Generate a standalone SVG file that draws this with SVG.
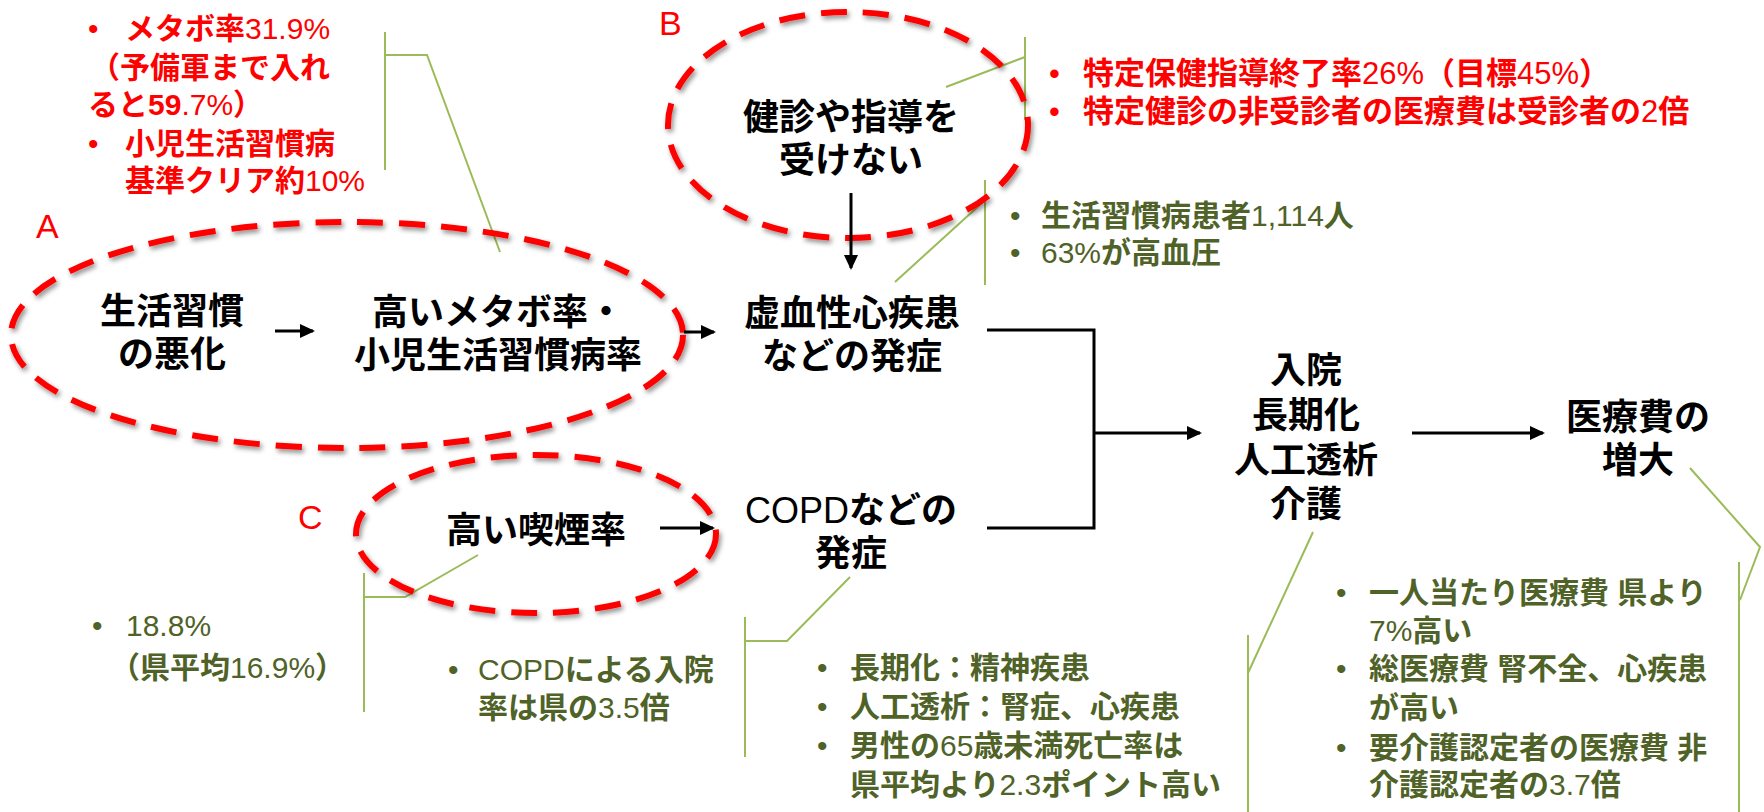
<svg xmlns="http://www.w3.org/2000/svg" width="1764" height="812" viewBox="0 0 1764 812">
<style>
text{font-family:"Liberation Sans","Noto Sans CJK JP",sans-serif}
.node{font-weight:700;font-size:36px;fill:#000;text-anchor:middle;dominant-baseline:central}
.n{font-weight:400}
.red{fill:#FF0000;font-size:30px;font-weight:700;dominant-baseline:central}
.redb{fill:#FF0000;font-size:31px;font-weight:700;dominant-baseline:central}
.grn{fill:#4F6228;font-size:30px;font-weight:700;dominant-baseline:central}
.lbl{fill:#FF0000;font-size:34px;font-weight:400;dominant-baseline:central}
.br{stroke:#9BBB59;stroke-width:2;fill:none}
.ell{fill:none;stroke:#FF0000;stroke-width:6;stroke-dasharray:26 16;filter:url(#sh)}
.con{stroke:#000;stroke-width:3;fill:none}
.arr{stroke:#000;stroke-width:3;fill:none;marker-end:url(#ah)}
</style>
<defs>
<filter id="sh" x="-10%" y="-10%" width="120%" height="130%">
<feDropShadow dx="2" dy="3" stdDeviation="2.5" flood-color="#000" flood-opacity="0.45"/>
</filter>
<marker id="ah" viewBox="0 0 15 14" refX="13" refY="7" markerWidth="15" markerHeight="14" markerUnits="userSpaceOnUse" orient="auto">
<path d="M0,0 L15,7 L0,14 z" fill="#000"/>
</marker>
</defs>
<rect width="1764" height="812" fill="#fff"/>

<g id="callout-lines">
<path class="br" d="M385,32 V170 M385,55 H427 L500,252"/>
<path class="br" d="M1025,37 V120 M1025,57 L946,87"/>
<path class="br" d="M985,180 V285 M983,202 L895,282"/>
<path class="br" d="M364,573 V712 M364,597 H405 L478,555"/>
<path class="br" d="M745,617 V757 M745,641 H787 L850,577"/>
<path class="br" d="M1248,635 V812 M1248,673 L1313,532"/>
<path class="br" d="M1739,562 V812 M1740,600 L1760,547 L1690,468"/>
</g>

<g id="groupA">
<ellipse class="ell" cx="347" cy="335" rx="336" ry="113"/>
<text class="lbl" x="36" y="226">A</text>
</g>
<g id="groupB">
<ellipse class="ell" cx="848" cy="125" rx="180" ry="113"/>
<text class="lbl" x="659" y="23">B</text>
</g>
<g id="groupC">
<ellipse class="ell" cx="536" cy="534" rx="180" ry="79"/>
<text class="lbl" x="298" y="517">C</text>
</g>

<g id="connectors">
<line class="arr" x1="275" y1="331" x2="313" y2="331"/>
<line class="arr" x1="684" y1="332" x2="714" y2="332"/>
<line class="arr" x1="851" y1="193" x2="851" y2="268"/>
<line class="arr" x1="660" y1="528" x2="713" y2="528"/>
<path class="con" d="M987,330 H1094 V528 H987"/>
<line class="arr" x1="1094" y1="433" x2="1200" y2="433"/>
<line class="arr" x1="1412" y1="433" x2="1543" y2="433"/>
</g>

<g id="node-lifestyle">
<text class="node" x="172" y="311">生活習慣</text>
<text class="node" x="172" y="354">の悪化</text>
</g>
<g id="node-metabo">
<text class="node" x="498" y="312">高いメタボ率・</text>
<text class="node" x="498" y="355">小児生活習慣病率</text>
</g>
<g id="node-kenshin">
<text class="node" x="851" y="117">健診や指導を</text>
<text class="node" x="851" y="160">受けない</text>
</g>
<g id="node-heart">
<text class="node" x="852" y="313">虚血性心疾患</text>
<text class="node" x="852" y="356">などの発症</text>
</g>
<g id="node-smoking">
<text class="node" x="536" y="530">高い喫煙率</text>
</g>
<g id="node-copd">
<text class="node" x="851" y="510"><tspan class="n">COPD</tspan>などの</text>
<text class="node" x="851" y="553">発症</text>
</g>
<g id="node-hospital">
<text class="node" x="1306" y="370">入院</text>
<text class="node" x="1306" y="415">長期化</text>
<text class="node" x="1306" y="460">人工透析</text>
<text class="node" x="1306" y="504">介護</text>
</g>
<g id="node-cost">
<text class="node" x="1638" y="417">医療費の</text>
<text class="node" x="1638" y="460">増大</text>
</g>

<g id="note-A">
<text class="red" x="88" y="28"><tspan class="n">•</tspan></text>
<text class="red" x="125" y="28">メタボ率<tspan class="n">31.9%</tspan></text>
<text class="red" x="90" y="67">（予備軍まで入れ</text>
<text class="red" x="88" y="104">ると59<tspan class="n">.7%</tspan>）</text>
<text class="red" x="88" y="143"><tspan class="n">•</tspan></text>
<text class="red" x="125" y="143">小児生活習慣病</text>
<text class="red" x="125" y="180">基準クリア約<tspan class="n">10%</tspan></text>
</g>

<g id="note-B">
<text class="redb" x="1049" y="73"><tspan class="n">•</tspan></text>
<text class="redb" x="1083" y="73">特定保健指導終了率<tspan class="n">26%</tspan>（目標<tspan class="n">45%</tspan>）</text>
<text class="redb" x="1049" y="111"><tspan class="n">•</tspan></text>
<text class="redb" x="1083" y="111">特定健診の非受診者の医療費は受診者の<tspan class="n">2</tspan>倍</text>
</g>

<g id="note-heart">
<text class="grn" x="1010" y="215"><tspan class="n">•</tspan></text>
<text class="grn" x="1041" y="215">生活習慣病患者<tspan class="n">1,114</tspan>人</text>
<text class="grn" x="1010" y="252"><tspan class="n">•</tspan></text>
<text class="grn" x="1041" y="252"><tspan class="n">63%</tspan>が高血圧</text>
</g>

<g id="note-smoking">
<text class="grn" x="92" y="625"><tspan class="n">•</tspan></text>
<text class="grn" x="126" y="625"><tspan class="n">18.8%</tspan></text>
<text class="grn" x="110" y="667">（県平均<tspan class="n">16.9%</tspan>）</text>
</g>

<g id="note-copd">
<text class="grn" x="448" y="669"><tspan class="n">•</tspan></text>
<text class="grn" x="478" y="669"><tspan class="n">COPD</tspan>による入院</text>
<text class="grn" x="478" y="707">率は県の<tspan class="n">3.5</tspan>倍</text>
</g>

<g id="note-hospital">
<text class="grn" x="817" y="667"><tspan class="n">•</tspan></text>
<text class="grn" x="850" y="667">長期化：精神疾患</text>
<text class="grn" x="817" y="706"><tspan class="n">•</tspan></text>
<text class="grn" x="850" y="706">人工透析：腎症、心疾患</text>
<text class="grn" x="817" y="745"><tspan class="n">•</tspan></text>
<text class="grn" x="850" y="745">男性の<tspan class="n">65</tspan>歳未満死亡率は</text>
<text class="grn" x="850" y="784">県平均より<tspan class="n">2.3</tspan>ポイント高い</text>
</g>

<g id="note-cost">
<text class="grn" x="1336" y="592"><tspan class="n">•</tspan></text>
<text class="grn" x="1369" y="592">一人当たり医療費 県より</text>
<text class="grn" x="1369" y="630"><tspan class="n">7%</tspan>高い</text>
<text class="grn" x="1336" y="668"><tspan class="n">•</tspan></text>
<text class="grn" x="1369" y="668">総医療費 腎不全、心疾患</text>
<text class="grn" x="1369" y="707">が高い</text>
<text class="grn" x="1336" y="747"><tspan class="n">•</tspan></text>
<text class="grn" x="1369" y="747">要介護認定者の医療費 非</text>
<text class="grn" x="1369" y="784">介護認定者の<tspan class="n">3.7</tspan>倍</text>
</g>
</svg>
